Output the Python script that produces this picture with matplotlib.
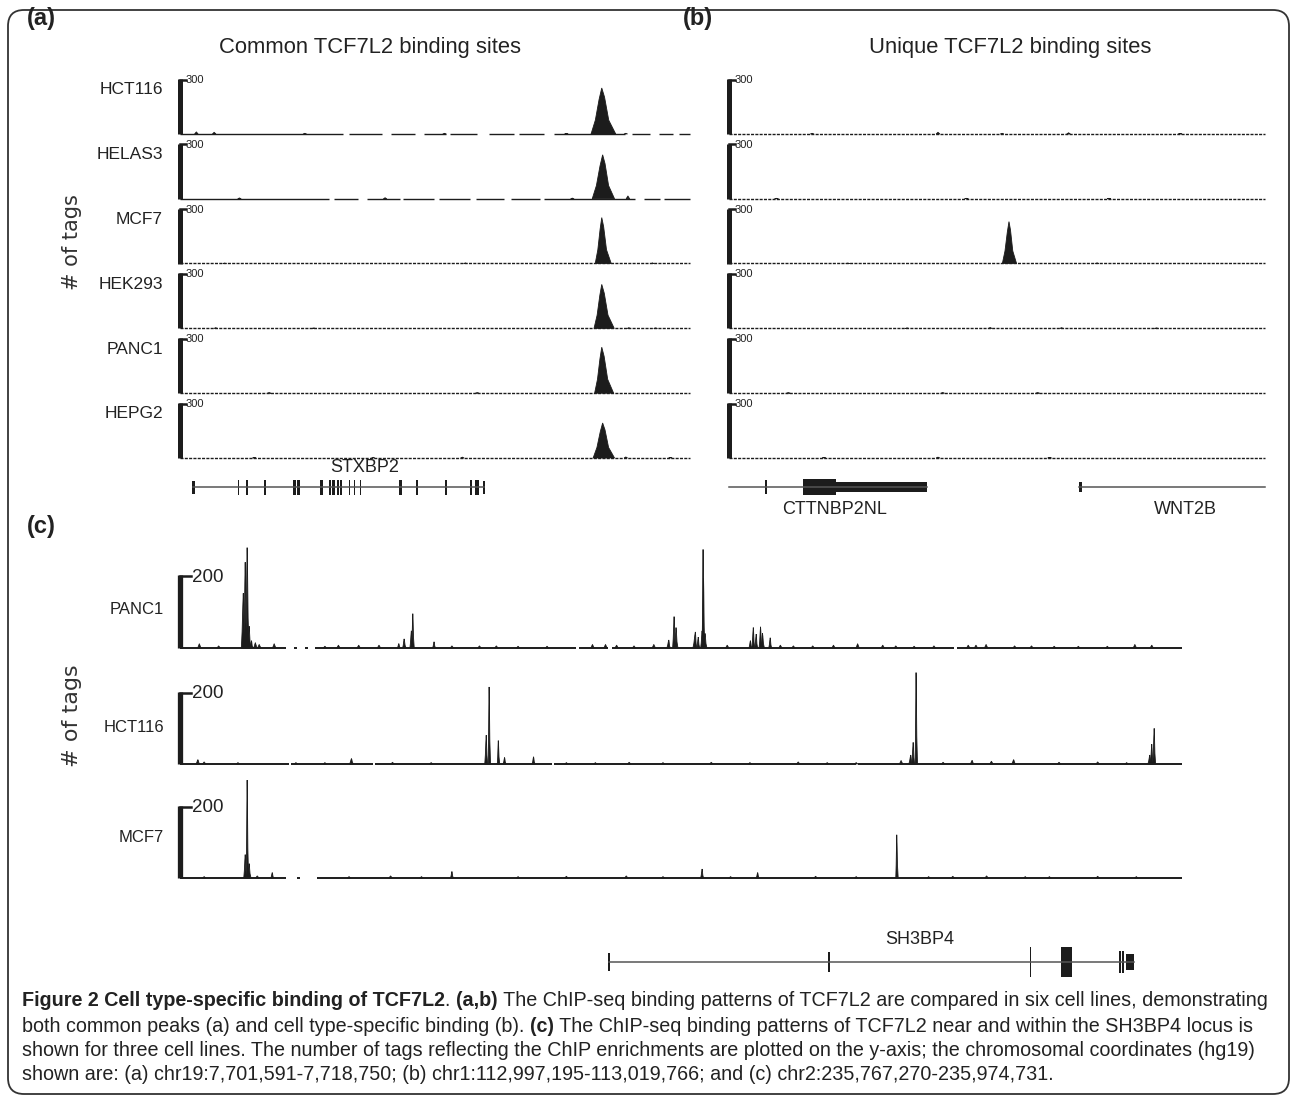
import matplotlib.pyplot as plt
from matplotlib.patches import FancyBboxPatch
from matplotlib.transforms import blended_transform_factory

# ---------------- data ----------------
# positions are kb from the left edge of each window
# (a) chr19:7,701,591-7,718,750
a_span = 17.159
a_cells = ["HCT116", "HELAS3", "MCF7", "HEK293", "PANC1", "HEPG2"]
# peaks: (summit kb, tags, left width kb, right width kb)
a_peaks = [
    [(14.19, 251, 0.36, 0.47)],
    [(14.22, 240, 0.35, 0.40)],
    [(14.19, 251, 0.22, 0.32)],
    [(14.19, 240, 0.26, 0.42)],
    [(14.19, 251, 0.24, 0.40)],
    [(14.22, 191, 0.32, 0.40)],
]
a_bumps = [
    [(0.55, 12), (1.15, 10), (4.2, 4), (8.9, 4), (13.0, 3), (15.0, 4)],
    [(2.0, 5), (6.9, 6), (13.2, 4), (15.07, 16)],
    [(1.5, 3), (9.6, 4), (15.9, 4)],
    [(1.2, 4), (4.5, 3), (15.1, 4), (16.0, 3)],
    [(3.0, 3), (10.0, 3)],
    [(2.5, 3), (6.5, 4), (9.5, 5), (15.0, 6), (16.5, 3)],
]
a_gaps = [
    [(5.5, 5.7), (6.8, 7.1), (7.9, 8.2), (8.95, 9.1), (10.0, 10.4), (11.25, 11.4),
     (12.25, 12.6), (14.97, 15.2), (15.8, 16.1), (16.6, 16.8)],
    [(5.0, 5.17), (6.0, 6.3), (7.4, 7.5), (8.55, 8.7), (9.75, 9.95), (10.9, 11.15),
     (12.1, 12.25), (15.3, 15.6), (16.15, 16.3)],
    [], [], [], [],
]
a_dotted = [False, False, True, True, True, True]

# (b) chr1:112,997,195-113,019,766
b_span = 22.571
b_peaks = [[], [], [(11.79, 229, 0.28, 0.32)], [], [], []]
b_bumps = [
    [(3.5, 4), (8.8, 10), (11.5, 4), (14.3, 7), (19.0, 3)],
    [(2.0, 3), (10.0, 3), (16.0, 3)],
    [(5.0, 3), (15.5, 4)],
    [(7.5, 3), (11.0, 5), (14.0, 4), (18.0, 3)],
    [(2.5, 3), (9.0, 4), (13.0, 3)],
    [(4.0, 3), (8.8, 5), (13.5, 3)],
]

# (c) chr2:235,767,270-235,974,731
c_span = 207.461
c_cells = ["PANC1", "HCT116", "MCF7"]
c_peaks = [
    [(13.1, 150, 0.4, 0.4), (13.5, 235, 0.3, 0.3), (13.9, 275, 0.3, 0.4), (14.3, 60, 0.3, 0.4),
     (14.8, 20, 0.3, 0.3), (45.3, 12, 0.3, 0.3), (46.4, 25, 0.3, 0.4), (47.9, 47, 0.3, 0.3),
     (48.2, 94, 0.25, 0.3), (52.6, 17, 0.3, 0.3), (101.2, 22, 0.4, 0.3), (102.3, 86, 0.3, 0.3),
     (102.7, 56, 0.3, 0.4), (106.7, 44, 0.5, 0.3), (107.3, 30, 0.3, 0.3), (108.1, 47, 0.3, 0.3),
     (108.3, 270, 0.2, 0.2), (108.4, 190, 0.25, 0.25), (108.7, 40, 0.3, 0.4), (118.1, 20, 0.3, 0.3),
     (118.7, 56, 0.3, 0.3), (119.3, 38, 0.3, 0.3), (120.2, 58, 0.3, 0.3), (120.6, 40, 0.3, 0.4),
     (122.2, 28, 0.3, 0.3)],
    [(3.7, 12, 0.4, 0.4), (35.5, 15, 0.4, 0.4), (63.4, 80, 0.3, 0.3), (64.0, 214, 0.2, 0.3),
     (65.9, 65, 0.2, 0.3), (67.2, 18, 0.3, 0.3), (73.2, 20, 0.3, 0.3), (151.3, 25, 0.4, 0.3),
     (151.8, 60, 0.3, 0.3), (152.4, 254, 0.2, 0.3), (164.0, 10, 0.4, 0.4), (172.6, 12, 0.4, 0.4),
     (200.8, 25, 0.4, 0.3), (201.2, 55, 0.3, 0.3), (201.7, 99, 0.3, 0.3)],
    [(13.5, 65, 0.3, 0.3), (13.9, 272, 0.2, 0.3), (14.3, 40, 0.3, 0.4), (19.1, 15, 0.3, 0.3),
     (56.3, 18, 0.3, 0.3), (108.1, 25, 0.3, 0.3), (119.6, 15, 0.3, 0.3), (148.4, 120, 0.2, 0.3)],
]
c_bumps = [
    [(4.0, 12), (8.0, 6), (15.6, 15), (16.4, 10), (19.5, 12), (30.0, 5), (32.8, 8), (37.0, 8),
     (41.2, 8), (56.3, 6), (62.0, 6), (65.5, 6), (70.0, 5), (76.0, 5), (85.4, 10), (88.1, 10),
     (90.4, 8), (94.0, 6), (98.1, 10), (113.3, 8), (124.3, 8), (127.0, 6), (131.0, 6),
     (135.3, 8), (140.3, 12), (145.5, 8), (148.2, 6), (152.0, 5), (156.1, 6), (163.2, 8),
     (164.8, 8), (166.9, 10), (172.8, 6), (176.3, 6), (181.0, 5), (186.0, 5), (192.0, 5),
     (197.7, 10), (201.2, 8)],
    [(5.0, 6), (12.0, 4), (24.0, 4), (30.0, 4), (44.0, 5), (52.0, 4), (80.0, 4), (86.0, 4),
     (93.0, 5), (100.0, 4), (110.0, 5), (118.0, 4), (128.0, 6), (134.0, 4), (140.0, 4),
     (149.3, 10), (158.0, 5), (168.0, 8), (182.0, 5), (190.0, 6), (196.0, 4)],
    [(5.0, 4), (16.0, 6), (35.0, 4), (43.6, 6), (50.0, 4), (70.0, 4), (80.0, 5), (92.4, 6),
     (100.0, 4), (114.0, 4), (131.6, 5), (140.0, 4), (155.0, 4), (160.0, 5), (167.0, 6),
     (175.0, 4), (180.0, 4), (190.0, 5), (198.0, 4)],
]
c_gaps = [
    [(22.0, 23.6), (24.2, 25.9), (26.5, 28.0), (81.9, 82.7), (88.6, 89.4), (160.3, 160.8)],
    [(22.5, 23.0), (40.0, 40.4), (77.0, 77.4), (140.0, 140.4)],
    [(22.0, 24.3), (24.8, 28.3)],
]

# gene models: (start kb, end kb, height in track units)
stxbp2_line = (0.44, 10.24)
stxbp2_exons = [(0.40, 0.50, 1.3), (1.94, 1.99, 1.5), (2.23, 2.29, 1.5), (2.84, 2.91, 1.5),
                (3.81, 3.89, 1.5), (3.95, 4.03, 1.5), (4.72, 4.81, 1.5), (5.00, 5.07, 1.5),
                (5.13, 5.21, 1.5), (5.27, 5.34, 1.5), (5.38, 5.44, 1.5), (5.69, 5.73, 1.5),
                (5.86, 5.90, 1.5), (6.05, 6.10, 1.5), (7.38, 7.48, 1.5), (7.94, 8.00, 1.5),
                (8.91, 8.98, 1.5), (9.76, 9.84, 1.5), (9.93, 10.06, 1.5), (10.18, 10.26, 1.3)]
cttnbp2nl_line = (0.0, 8.33)
cttnbp2nl_exons = [(1.53, 1.60, 1.4), (3.13, 4.52, 1.6), (4.52, 8.33, 1.0)]
wnt2b_line = (14.75, 22.571)
wnt2b_exons = [(14.72, 14.85, 1.0)]
sh3bp4_line = (88.8, 197.5)
sh3bp4_exons = [(88.6, 89.0, 0.8), (134.1, 134.5, 0.9), (175.9, 176.3, 1.4), (182.5, 184.6, 1.4),
                (194.4, 194.8, 1.0), (195.0, 195.4, 1.0), (195.8, 197.5, 0.75)]

# ---------------- figure ----------------
W, H = 1293, 1097
fig = plt.figure(figsize=(W / 100, H / 100), dpi=100)

SANS = "Liberation Sans"
INK = "#1c1c1c"
TXT = "#222222"

canvas = fig.add_axes([0, 0, 1, 1])
canvas.set_xlim(0, W)
canvas.set_ylim(H, 0)
canvas.set_axis_off()
canvas.add_patch(FancyBboxPatch((8, 10), 1281, 1084, boxstyle="round,pad=0,rounding_size=16",
                                fill=False, ec="#333333", lw=1.3))


def px_axes(x0, y0, x1, y1):
    ax = fig.add_axes([x0 / W, 1 - y1 / H, (x1 - x0) / W, (y1 - y0) / H])
    ax.set_axis_off()
    return ax


def draw_track(ax, span, scale, peaks, bumps, gaps, dotted, bump_w, bar_lw, tick_frac, base_lw):
    ax.set_xlim(0, span)
    ax.set_ylim(0, scale)
    edges = [0]
    for g0, g1 in gaps:
        edges += [g0, g1]
    edges.append(span)
    ls = (0, (2.2, 0.9)) if dotted else "-"
    for s, e in zip(edges[0::2], edges[1::2]):
        ax.plot([s, e], [1, 1], color=INK, lw=base_lw, ls=ls, solid_capstyle="butt", clip_on=False)
    for p, h, l, r in peaks:
        xs = [p - l, p - 0.6 * l, p - 0.25 * l, p, p + 0.2 * r, p + 0.5 * r, p + r]
        ys = [0, 0.3 * h, 0.75 * h, h, 0.8 * h, 0.3 * h, 0]
        ax.fill(xs, ys, color=INK, lw=0.6, clip_on=False)
    for p, h in bumps:
        ax.fill([p - bump_w, p, p + bump_w], [0, h, 0], color=INK, lw=0.5, clip_on=False)
    trans = blended_transform_factory(ax.transAxes, ax.transData)
    ax.plot([0, 0], [0, scale], color=INK, lw=bar_lw, solid_capstyle="butt",
            transform=trans, clip_on=False)
    ax.plot([0, tick_frac], [scale * 0.99, scale * 0.99], color=INK, lw=1.8,
            transform=trans, clip_on=False)


def draw_gene(ax, span, line, exons):
    ax.set_xlim(0, span)
    ax.set_ylim(-1, 1)
    ax.plot(line, [0, 0], color="#555555", lw=1.1, clip_on=False)
    for s, e, h in exons:
        ax.bar((s + e) / 2, h, width=e - s, bottom=-h / 2, color=INK, lw=0, clip_on=False)


# panels (a) and (b)
for k, cell in enumerate(a_cells):
    top = 79 + 64.8 * k
    base = 134 + 64.8 * k
    ax = px_axes(180, top, 690, base)
    draw_track(ax, a_span, 300, a_peaks[k], a_bumps[k], a_gaps[k], a_dotted[k],
               0.06, 3.6, 0.012, 1.0)
    ax = px_axes(729, top, 1265, base)
    draw_track(ax, b_span, 300, b_peaks[k], b_bumps[k], [], True, 0.08, 3.6, 0.012, 1.0)
    canvas.text(163, top + 11, cell, ha="right", va="center", family=SANS,
                fontsize=12.5, color=TXT)
    canvas.text(186, top + 1, "300", ha="left", va="center", family=SANS,
                fontsize=8, color=TXT)
    canvas.text(735, top + 1, "300", ha="left", va="center", family=SANS,
                fontsize=8, color=TXT)

draw_gene(px_axes(180, 477, 690, 497), a_span, stxbp2_line, stxbp2_exons)
gb = px_axes(729, 477, 1265, 497)
draw_gene(gb, b_span, cttnbp2nl_line, cttnbp2nl_exons)
draw_gene(gb, b_span, wnt2b_line, wnt2b_exons)

# panel (c)
c_rows = [(575, 648), (692, 764), (806, 878)]
c_label_y = [610, 727, 838]
for k, cell in enumerate(c_cells):
    top, base = c_rows[k]
    ax = px_axes(180, top, 1182, base)
    draw_track(ax, c_span, 200, c_peaks[k], c_bumps[k], c_gaps[k], False,
               0.35, 3.8, 0.011, 1.4)
    canvas.text(164, c_label_y[k], cell, ha="right", va="center", family=SANS,
                fontsize=12, color=TXT)
    canvas.text(192, top + 2, "200", ha="left", va="center", family=SANS,
                fontsize=13.5, color=TXT)

draw_gene(px_axes(180, 940, 1182, 984), c_span, sh3bp4_line, sh3bp4_exons)

# ---------------- text ----------------
for label, x, y in [("(a)", 27, 19), ("(b)", 683, 19), ("(c)", 27, 526)]:
    canvas.text(x, y, label, ha="left", va="center", family=SANS,
                fontweight="bold", fontsize=17, color=TXT)
canvas.text(370, 47, "Common TCF7L2 binding sites", ha="center", va="center",
            family=SANS, fontsize=15.8, color=TXT)
canvas.text(1010, 47, "Unique TCF7L2 binding sites", ha="center", va="center",
            family=SANS, fontsize=15.8, color=TXT)
canvas.text(72, 242, "# of tags", rotation=90, ha="center", va="center",
            family="DejaVu Sans", fontsize=15, color="#333333")
canvas.text(72, 716, "# of tags", rotation=90, ha="center", va="center",
            family="DejaVu Sans", fontsize=16, color="#333333")

gene_kw = dict(ha="center", va="center", family=SANS, fontsize=13, color=TXT)
canvas.text(365, 467, "STXBP2", **gene_kw)
canvas.text(835, 510, "CTTNBP2NL", **gene_kw)
canvas.text(1185, 510, "WNT2B", **gene_kw)
canvas.text(920, 940, "SH3BP4", **gene_kw)

# caption
caption = [
    [("Figure 2 Cell type-specific binding of TCF7L2", True), (". ", False), ("(a,b)", True),
     (" The ChIP-seq binding patterns of TCF7L2 are compared in six cell lines, demonstrating", False)],
    [("both common peaks (a) and cell type-specific binding (b). ", False), ("(c)", True),
     (" The ChIP-seq binding patterns of TCF7L2 near and within the SH3BP4 locus is", False)],
    [("shown for three cell lines. The number of tags reflecting the ChIP enrichments are plotted "
      "on the y-axis; the chromosomal coordinates (hg19)", False)],
    [("shown are: (a) chr19:7,701,591-7,718,750; (b) chr1:112,997,195-113,019,766; "
      "and (c) chr2:235,767,270-235,974,731.", False)],
]
cap_y = [1000, 1026, 1050, 1075]
cap_kw = dict(family=SANS, fontsize=14.2, color=TXT)
for line, y in zip(caption, cap_y):
    s, bold = line[0]
    t = canvas.text(22, y, s, ha="left", va="center",
                    fontweight="bold" if bold else "normal", **cap_kw)
    for s, bold in line[1:]:
        t = canvas.annotate(s, xy=(1, 0), xycoords=t, ha="left", va="bottom",
                            fontweight="bold" if bold else "normal", **cap_kw)

fig.savefig("out.png", dpi=100)
